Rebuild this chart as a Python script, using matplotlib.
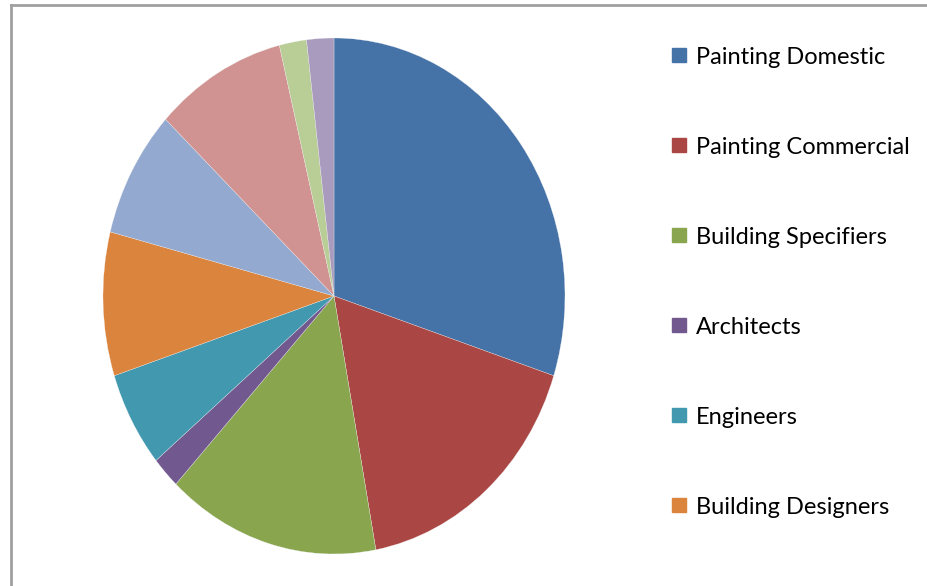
import matplotlib
matplotlib.use('agg')
import matplotlib.pyplot as plt
from matplotlib.patches import Rectangle
from matplotlib.lines import Line2D

# shares, read clockwise from 12 o'clock
labels = ['Painting Domestic', 'Painting Commercial', 'Building Specifiers',
          'Architects', 'Engineers', 'Building Designers']
values = [30.0, 17.1, 14.9, 2.0, 6.0, 9.0, 8.0, 9.2, 1.9, 1.9]
colors = ['#4572A7', '#AA4643', '#89A54E', '#71588F', '#4198AF',
          '#DB843D', '#93A9CF', '#D19392', '#B9CD96', '#A99BBD']

W, H = 927, 586
fig = plt.figure(figsize=(W / 100, H / 100), dpi=100)

# pie is slightly stretched vertically in the original
ax = fig.add_axes([103 / W, (H - 554) / H, 462 / W, 516 / H])
ax.pie(values, colors=colors, startangle=90, counterclock=False,
       wedgeprops={'linewidth': 0.2, 'edgecolor': '#f4f4f4'})
ax.set_aspect('auto')
ax.set_xlim(-1, 1)
ax.set_ylim(-1, 1)
ax.axis('off')

# chart frame (only top and left visible)
fig.add_artist(Line2D([11 / W, 1.01], [1 - 5 / H] * 2, color='#A0A0A0', lw=2))
fig.add_artist(Line2D([11 / W] * 2, [1 - 5 / H, -0.01], color='#A0A0A0', lw=2))

# legend
for i, lab in enumerate(labels):
    yc = 55 + 90 * i
    fig.add_artist(Rectangle((672 / W, 1 - (yc + 7) / H), 14 / W, 14 / H,
                             color=colors[i], transform=fig.transFigure))
    fig.text(696 / W, 1 - (yc + 3) / H, lab, fontsize=17, family='Lato',
             va='center', ha='left', color='black')

plt.savefig('out.png', dpi=100)
